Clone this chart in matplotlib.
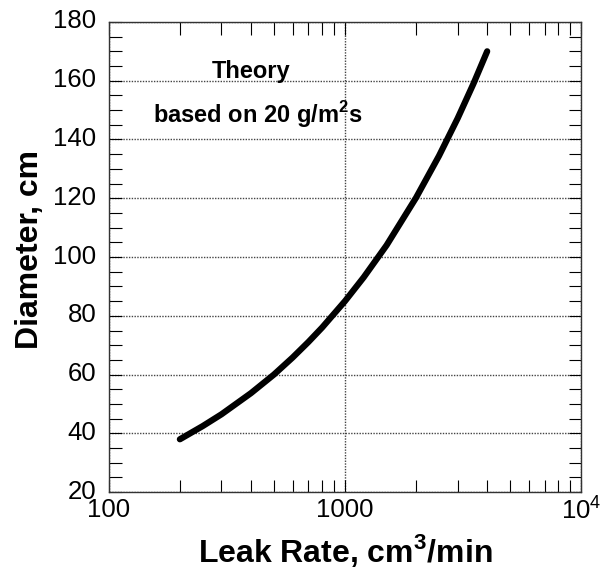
import matplotlib
matplotlib.use("Agg")
import matplotlib.pyplot as plt
import matplotlib.transforms as mtransforms
from matplotlib.ticker import FixedLocator, FixedFormatter, MultipleLocator

plt.rcParams['font.family'] = ['Liberation Sans', 'DejaVu Sans']

leak_rate = [200, 250, 300, 400, 500, 600, 700, 800, 1000, 1200, 1500, 2000, 2500, 3000, 3500, 4000]
diameter = [38, 42.5, 46.5, 53.7, 60, 65.8, 71.1, 76, 85, 93.1, 104, 120.2, 134.4, 147.2, 159, 170]

x_ticks = [100, 1000, 10000]
x_tick_labels = ['100', '1000', r'$\mathregular{10^4}$']
y_ticks = [20, 40, 60, 80, 100, 120, 140, 160, 180]

fig = plt.figure(figsize=(6.01, 5.77), dpi=100)
ax = fig.add_axes([0.181, 0.147, 0.786, 0.815])

ax.plot(leak_rate, diameter, color='black', lw=4.5, solid_capstyle='round')

ax.set_xscale('log')
ax.set_xlim(100, 10000)
ax.set_ylim(20, 180)
ax.xaxis.set_major_locator(FixedLocator(x_ticks))
ax.xaxis.set_major_formatter(FixedFormatter(x_tick_labels))
ax.set_yticks(y_ticks)
ax.yaxis.set_minor_locator(MultipleLocator(5))

ax.grid(True, which='major', color='#444444', ls=(0, (1, 1)), lw=1.0)
ax.tick_params(which='both', direction='in', top=True, right=True, labelsize=18.5)
ax.tick_params(axis='x', pad=4)
ax.tick_params(axis='y', pad=9)
ax.tick_params(which='major', length=9, width=0.8)
ax.tick_params(which='minor', length=9, width=0.8)
for s in ax.spines.values():
    s.set_linewidth(1.0)
    s.set_color('#333333')

offset = mtransforms.ScaledTranslation(0, 3 / 100, fig.dpi_scale_trans)
for lab in ax.get_yticklabels():
    lab.set_transform(lab.get_transform() + offset)

ax.set_xlabel(r'Leak Rate, cm$^\mathregular{3}$/min', fontsize=23, fontweight='bold')
ax.xaxis.set_label_coords(0.5, -0.085)
ax.set_ylabel('Diameter, cm', fontsize=23, fontweight='bold')
ax.yaxis.set_label_coords(-0.135, 0.515)

ax.text(400, 163, 'Theory', fontsize=17, fontweight='bold', ha='center', va='center')
ax.text(428, 148.5, r'based on 20 g/m$^\mathregular{2}$s', fontsize=17, fontweight='bold', ha='center', va='center')

fig.savefig('out.png', dpi=100)
